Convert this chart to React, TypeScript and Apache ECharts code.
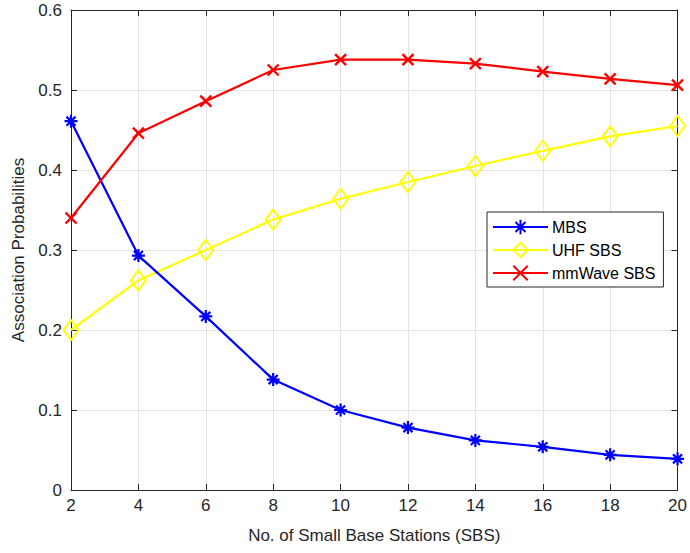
import React, { useEffect, useRef } from "react";
import * as echarts from "echarts";

const xValues = [2, 4, 6, 8, 10, 12, 14, 16, 18, 20];
const mbs = [0.461, 0.293, 0.217, 0.138, 0.1, 0.078, 0.062, 0.054, 0.044, 0.039];
const uhf = [0.2, 0.262, 0.3, 0.338, 0.364, 0.385, 0.405, 0.424, 0.442, 0.455];
const mmwave = [0.34, 0.446, 0.486, 0.525, 0.538, 0.538, 0.533, 0.523, 0.514, 0.506];
const seriesNames = ["MBS", "UHF SBS", "mmWave SBS"];

const asterisk = "path://M0,-10L0,10M-10,0L10,0M-7,-7L7,7M-7,7L7,-7";
const cross = "path://M-10,-10L10,10M-10,10L10,-10";

const FONT = "'Liberation Sans', Arial, Helvetica, sans-serif";
const AX = "#262626";

export default function App() {
  const ref = useRef<HTMLDivElement>(null);
  useEffect(() => {
    if (!ref.current) return;
    const chart = echarts.init(ref.current, undefined, { renderer: "svg" });
    const pair = (arr: number[]) => xValues.map((x, i) => [x, arr[i]]);
    const axisCommon = {
      axisLine: { show: true, onZero: false, lineStyle: { color: AX, width: 1 } },
      axisTick: { show: true, inside: true, length: 6, lineStyle: { color: AX } },
    };
    chart.setOption({
      animation: false,
      textStyle: { fontFamily: FONT },
      grid: { left: 71, right: 11, top: 10, bottom: 63, containLabel: false },
      legend: {
        data: seriesNames,
        orient: "vertical",
        left: 487,
        top: 212,
        padding: [6, 8, 5, 5],
        itemWidth: 55,
        itemHeight: 18,
        itemGap: 5,
        backgroundColor: "#ffffff",
        borderColor: AX,
        borderWidth: 1,
        textStyle: { fontFamily: FONT, fontSize: 16, color: "#000", lineHeight: 18, padding: [0, 0, 0, -1] },
      },
      xAxis: [
        {
          type: "value",
          min: 2,
          max: 20,
          interval: 2,
          ...axisCommon,
          axisLabel: { color: AX, fontSize: 17, fontFamily: FONT, margin: 7 },
          splitLine: { show: true, lineStyle: { color: "#e3e3e3", width: 1 } },
          name: "No. of Small Base Stations (SBS)",
          nameLocation: "middle",
          nameGap: 37,
          nameTextStyle: { color: AX, fontSize: 17, fontFamily: FONT },
        },
        {
          type: "value",
          position: "top",
          min: 2,
          max: 20,
          interval: 2,
          ...axisCommon,
          axisLabel: { show: false },
          splitLine: { show: false },
        },
      ],
      yAxis: [
        {
          type: "value",
          min: 0,
          max: 0.6,
          interval: 0.1,
          ...axisCommon,
          axisLabel: { color: AX, fontSize: 17, fontFamily: FONT, margin: 9 },
          splitLine: { show: true, lineStyle: { color: "#e3e3e3", width: 1 } },
          name: "Association Probabilities",
          nameLocation: "middle",
          nameGap: 43,
          nameTextStyle: { color: AX, fontSize: 17, fontFamily: FONT },
        },
        {
          type: "value",
          position: "right",
          min: 0,
          max: 0.6,
          interval: 0.1,
          ...axisCommon,
          axisLabel: { show: false },
          splitLine: { show: false },
        },
      ],
      series: [
        {
          name: seriesNames[0],
          type: "line",
          data: pair(mbs),
          symbol: asterisk,
          symbolSize: 13,
          lineStyle: { color: "#0000ff", width: 2.2 },
          itemStyle: { color: "#0000ff", borderColor: "#0000ff", borderWidth: 2.2 },
          z: 3,
        },
        {
          name: seriesNames[1],
          type: "line",
          data: pair(uhf),
          symbol: "diamond",
          symbolSize: [15, 20],
          showAllSymbol: true,
          lineStyle: { color: "#ffff00", width: 2.2 },
          itemStyle: { color: "rgba(255,255,255,0)", borderColor: "#ffff00", borderWidth: 2 },
          z: 2,
        },
        {
          name: seriesNames[2],
          type: "line",
          data: pair(mmwave),
          symbol: cross,
          symbolSize: 11,
          lineStyle: { color: "#ff0000", width: 2.2 },
          itemStyle: { color: "#ff0000", borderColor: "#ff0000", borderWidth: 2.4 },
          z: 4,
        },
      ],
    });
    return () => chart.dispose();
  }, []);
  return <div ref={ref} style={{ width: 690, height: 553, position: "absolute", left: 0, top: 0, background: "#fff" }} />;
}
